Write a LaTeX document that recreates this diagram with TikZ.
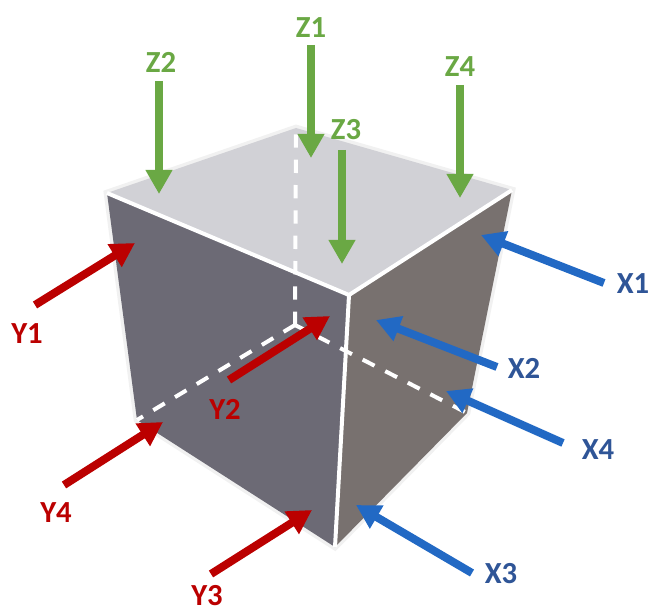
\documentclass[tikz,border=0pt]{standalone}
\usepackage{fontspec}
\setmainfont{Carlito}
\usetikzlibrary{arrows.meta}
\definecolor{zgreen}{HTML}{6AA844}
\definecolor{xblue}{HTML}{2269C4}
\definecolor{xtext}{HTML}{2F5597}
\definecolor{yred}{HTML}{BB0000}
\definecolor{topface}{HTML}{D1D1D6}
\definecolor{leftface}{HTML}{6C6A75}
\definecolor{rightface}{HTML}{78716F}
\definecolor{glow}{HTML}{F1F1F1}
\tikzset{
  x=0.75pt,y=-0.75pt,
  facefill/.style={draw=none,fill=#1},
  silhouette/.style={draw=glow,line width=5pt,line join=miter},
  edgeline/.style={draw=white,line width=3pt,line join=miter},
  hidden/.style={draw=white,line width=3pt,dash pattern=on 10pt off 9pt},
  force/.style={draw=#1,line width=6pt,-{Triangle[width=19pt,length=18pt,fill=#1]}},
  lbl/.style={font=\fontsize{23}{26}\selectfont\bfseries,text=#1,inner sep=0pt},
}
\begin{document}
\begin{tikzpicture}
\useasboundingbox (0,0) rectangle (650,613);
% cube corners
\coordinate (TB) at (296,128);
\coordinate (TL) at (107,193);
\coordinate (TF) at (349,295);
\coordinate (TR) at (512,190);
\coordinate (BF) at (335,547);
\coordinate (BL) at (137,420);
\coordinate (BR) at (467,413);
\coordinate (BH) at (295,325);
% faces
\draw[silhouette] (TB) -- (TR) -- (BR) -- (BF) -- (BL) -- (TL) -- cycle;
\fill[facefill=topface] (TB) -- (TR) -- (TF) -- (TL) -- cycle;
\fill[facefill=leftface] (TL) -- (TF) -- (BF) -- (BL) -- cycle;
\fill[facefill=rightface] (TF) -- (TR) -- (BR) -- (BF) -- cycle;
% visible inner edges
\draw[edgeline] (TL) -- (TF) -- (TR);
\draw[edgeline] (TF) -- (BF);
% hidden edges
\draw[hidden] (BH) -- (TB);
\draw[hidden] (BH) -- (BL);
\draw[hidden] (BH) -- (BR);
% labels
\node[lbl=zgreen] (Z1) at (311,28) {Z1};
\node[lbl=zgreen] (Z2) at (161,62) {Z2};
\node[lbl=zgreen] (Z3) at (346,130) {Z3};
\node[lbl=zgreen] (Z4) at (460,67) {Z4};
\node[lbl=xtext] (X1) at (633,284) {X1};
\node[lbl=xtext] (X2) at (524,368) {X2};
\node[lbl=xtext] (X4) at (598,450) {X4};
\node[lbl=xtext] (X3) at (501,574) {X3};
\node[lbl=yred] (Y1) at (27,334) {Y1};
\node[lbl=yred] (Y2) at (225,409) {Y2};
\node[lbl=yred] (Y4) at (56,513) {Y4};
\node[lbl=yred] (Y3) at (207,596) {Y3};
% arrow ends
\coordinate (z1a) at (311,45);  \coordinate (z1b) at (311,158);
\coordinate (z2a) at (159,81);  \coordinate (z2b) at (159,194);
\coordinate (z3a) at (342,150); \coordinate (z3b) at (342,264);
\coordinate (z4a) at (460,85);  \coordinate (z4b) at (460,198);
\coordinate (x1a) at (604,283); \coordinate (x1b) at (481,235);
\coordinate (x2a) at (497,367); \coordinate (x2b) at (376,320);
\coordinate (x4a) at (563,443); \coordinate (x4b) at (446,391);
\coordinate (x3a) at (472,573); \coordinate (x3b) at (356,505);
\coordinate (y1a) at (35,305);  \coordinate (y1b) at (135,243);
\coordinate (y2a) at (229,380); \coordinate (y2b) at (330,316);
\coordinate (y4a) at (64,485);  \coordinate (y4b) at (163,422);
\coordinate (y3a) at (211,574); \coordinate (y3b) at (312,510);
% arrows
\draw[force=zgreen] (z1a) -- (z1b);
\draw[force=zgreen] (z2a) -- (z2b);
\draw[force=zgreen] (z3a) -- (z3b);
\draw[force=zgreen] (z4a) -- (z4b);
\draw[force=xblue] (x1a) -- (x1b);
\draw[force=xblue] (x2a) -- (x2b);
\draw[force=xblue] (x4a) -- (x4b);
\draw[force=xblue] (x3a) -- (x3b);
\draw[force=yred] (y1a) -- (y1b);
\draw[force=yred] (y2a) -- (y2b);
\draw[force=yred] (y4a) -- (y4b);
\draw[force=yred] (y3a) -- (y3b);
\end{tikzpicture}
\end{document}
